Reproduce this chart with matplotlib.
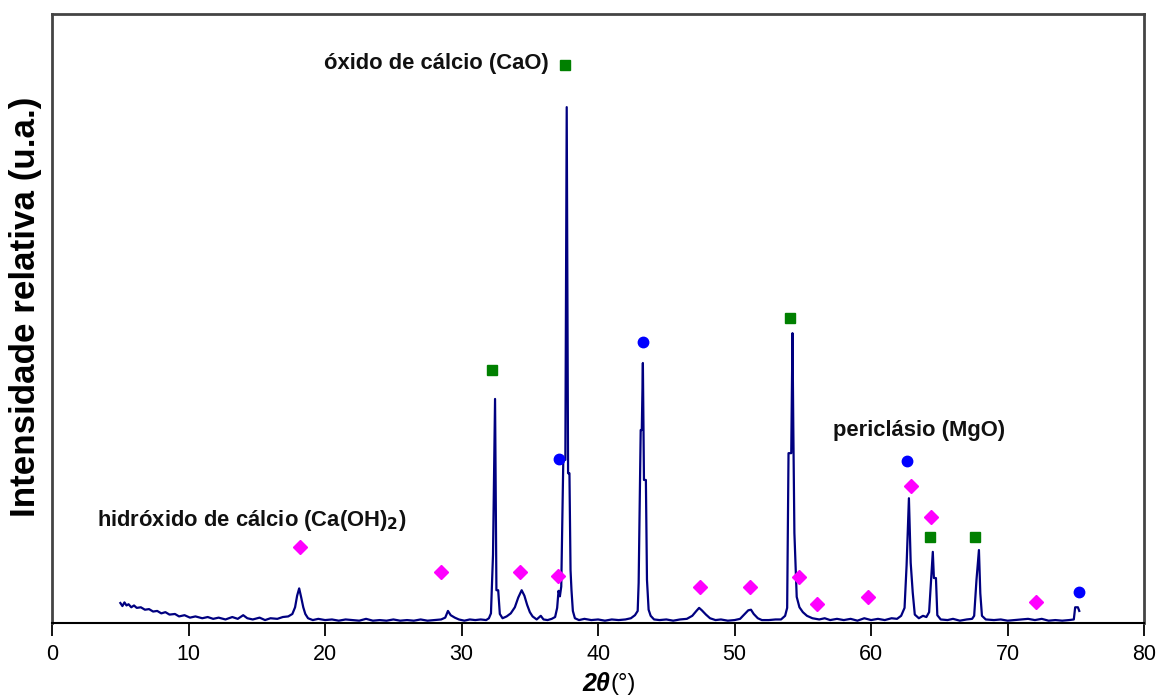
import matplotlib
matplotlib.use("Agg")
import matplotlib.pyplot as plt

plt.rcParams["font.family"] = ["Liberation Sans", "DejaVu Sans"]

# difratograma (2theta, intensidade relativa)
two_theta = [
    5.0, 5.15, 5.3, 5.45, 5.6, 5.8, 6.0, 6.2, 6.5, 6.8, 7.1, 7.4, 7.7, 8.0, 8.3, 8.6, 9.0, 9.3, 9.7, 10.1,
    10.5, 11.0, 11.4, 11.8, 12.2, 12.7, 13.2, 13.6, 14.0, 14.3, 14.7, 15.2, 15.6, 16.0, 16.5, 16.9, 17.3, 17.6,
    17.8, 17.95, 18.1, 18.25, 18.4, 18.55, 18.75, 19.1, 19.5, 20.0, 20.5, 21.0, 21.5, 22.0, 22.5, 23.0, 23.5,
    24.0, 24.5, 25.0, 25.5, 26.0, 26.5, 27.0, 27.5, 28.0, 28.5, 28.8, 29.0, 29.2, 29.5, 29.8, 30.2, 30.6, 31.0,
    31.4, 31.8, 32.0, 32.15, 32.3, 32.45, 32.55, 32.68, 32.8, 33.0, 33.3, 33.6, 33.9, 34.15, 34.4, 34.6, 34.8,
    35.0, 35.2, 35.5, 35.8, 36.0, 36.3, 36.6, 36.85, 37.0, 37.1, 37.2, 37.3, 37.45, 37.6, 37.7, 37.8, 37.9,
    37.98, 38.05, 38.15, 38.3, 38.6, 39.0, 39.5, 40.0, 40.5, 41.0, 41.5, 42.0, 42.4, 42.7, 42.9, 42.97, 43.12,
    43.2, 43.28, 43.36, 43.5, 43.58, 43.7, 43.85, 44.1, 44.5, 45.0, 45.5, 46.0, 46.5, 46.9, 47.2, 47.4, 47.6,
    47.9, 48.2, 48.6, 49.0, 49.5, 50.0, 50.4, 50.7, 51.0, 51.2, 51.4, 51.7, 52.0, 52.5, 53.0, 53.4, 53.7,
    53.85, 53.95, 54.15, 54.24, 54.3, 54.38, 54.55, 54.75, 55.0, 55.3, 55.7, 56.2, 56.6, 57.0, 57.5, 58.0,
    58.5, 59.0, 59.5, 60.0, 60.5, 61.0, 61.5, 61.9, 62.2, 62.45, 62.6, 62.77, 62.9, 63.05, 63.2, 63.5, 63.8,
    64.05, 64.25, 64.42, 64.52, 64.6, 64.75, 64.85, 65.1, 65.6, 66.0, 66.5, 67.0, 67.4, 67.55, 67.72, 67.9,
    68.0, 68.12, 68.4, 69.0, 69.5, 70.0, 70.5, 71.0, 71.5, 72.0, 72.5, 73.0, 73.5, 74.0, 74.5, 74.85, 74.95,
    75.15, 75.25,
]
intensity = [
    3.3, 2.8, 3.4, 2.9, 3.1, 2.6, 2.9, 2.5, 2.6, 2.2, 2.3, 1.9, 2.0, 1.6, 1.8, 1.4, 1.5, 1.1, 1.3, 0.9,
    1.1, 0.8, 1.0, 0.7, 0.9, 0.6, 1.0, 0.7, 1.3, 0.8, 0.6, 0.9, 0.5, 0.8, 0.7, 1.0, 1.1, 1.5,
    2.6, 4.5, 5.7, 4.2, 2.6, 1.5, 0.8, 0.5, 0.7, 0.5, 0.6, 0.4, 0.6, 0.5, 0.4, 0.7, 0.4,
    0.5, 0.4, 0.6, 0.4, 0.5, 0.4, 0.6, 0.4, 0.5, 0.6, 0.9, 2.0, 1.3, 0.9, 0.6, 0.4, 0.6, 0.5,
    0.6, 0.5, 0.8, 1.6, 11.2, 36.8, 5.4, 5.4, 1.5, 0.8, 1.1, 1.6, 2.6, 4.2, 5.4, 4.5, 3.0,
    1.8, 1.1, 0.6, 1.2, 0.6, 0.5, 0.7, 1.0, 2.5, 5.3, 4.4, 6.0, 26.8, 26.8, 84.7, 24.6, 24.6,
    8.7, 5.4, 2.0, 0.8, 0.5, 0.7, 0.5, 0.6, 0.4, 0.6, 0.5, 0.6, 0.8, 1.3, 2.0, 6.6, 31.7,
    31.7, 42.7, 23.5, 23.5, 7.1, 2.2, 1.2, 0.6, 0.5, 0.6, 0.4, 0.6, 0.7, 1.2, 2.0, 2.5, 2.1,
    1.4, 0.8, 0.5, 0.6, 0.4, 0.5, 0.7, 1.4, 2.1, 2.2, 1.5, 0.8, 0.5, 0.5, 0.6, 0.6, 1.2,
    2.5, 27.9, 27.9, 47.6, 32.2, 14.8, 4.3, 2.6, 1.8, 1.2, 0.8, 0.6, 0.8, 0.5, 0.7, 0.5,
    0.7, 0.4, 0.8, 0.5, 0.7, 0.5, 0.8, 0.7, 1.2, 2.5, 9.5, 20.5, 9.9, 5.0, 1.4, 0.8, 1.2,
    1.0, 1.8, 8.0, 11.7, 7.4, 7.4, 1.3, 0.6, 0.5, 0.7, 0.4, 0.6, 0.7, 1.2, 7.1, 12.0,
    4.9, 1.2, 0.6, 0.5, 0.6, 0.4, 0.5, 0.6, 0.7, 0.5, 0.7, 0.4, 0.5, 0.4, 0.5, 0.6, 2.6,
    2.6, 2.0,
]

# identificacao das fases
caoh2_x = [18.15, 28.5, 34.3, 37.05, 47.5, 51.1, 54.7, 56.0, 59.8, 62.9, 64.4, 72.1]
caoh2_y = [12.5, 8.4, 8.4, 7.7, 5.9, 5.9, 7.6, 3.1, 4.3, 22.5, 17.4, 3.4]
cao_x = [32.2, 37.55, 54.05, 64.3, 67.6]
cao_y = [41.5, 91.6, 50.1, 14.1, 14.1]
mgo_x = [37.1, 43.3, 62.6, 75.2]
mgo_y = [26.9, 46.1, 26.6, 5.1]

fig = plt.figure(figsize=(11.58, 6.97), dpi=100)
ax = fig.add_axes([0.045, 0.106, 0.943, 0.874])

ax.plot(two_theta, intensity, color="#000080", lw=1.6)
ax.plot(caoh2_x, caoh2_y, "D", color="#ff00ff", ms=7, ls="none")
ax.plot(cao_x, cao_y, "s", color="#008000", ms=7.5, ls="none")
ax.plot(mgo_x, mgo_y, "o", color="#0000ff", ms=7.5, ls="none")

ax.text(36.4, 91.8, "óxido de cálcio (CaO)", fontsize=15.8, fontweight="bold",
        ha="right", va="center", color="#111111")
ax.text(57.2, 31.6, "periclásio (MgO)", fontsize=15.8, fontweight="bold",
        ha="left", va="center", color="#111111")
ax.text(3.3, 16.9, "hidróxido de cálcio (Ca(OH)$_\\mathbf{2}$)", fontsize=15.8,
        fontweight="bold", ha="left", va="center", color="#111111")

ax.set_xlim(0, 80)
ax.set_ylim(0, 100)
ax.set_xticks(range(0, 81, 10))
ax.set_yticks([])
ax.tick_params(axis="x", direction="out", length=9, width=1.3, labelsize=15.5, pad=6)

for s in ["left", "top", "right"]:
    ax.spines[s].set_color("#444444")
    ax.spines[s].set_linewidth(2)
ax.spines["bottom"].set_color("black")
ax.spines["bottom"].set_linewidth(1.5)

ax.set_ylabel("Intensidade relativa (u.a.)", fontsize=25.2, fontweight="bold")
ax.yaxis.set_label_coords(-0.0095, 0.52)

ax.annotate("2θ", xy=(40.9, 0), xycoords=("data", "axes fraction"), xytext=(0, -44),
            textcoords="offset points", ha="right", va="center", fontsize=18,
            fontweight="bold", fontstyle="italic")
ax.annotate("(°)", xy=(40.9, 0), xycoords=("data", "axes fraction"), xytext=(0, -44),
            textcoords="offset points", ha="left", va="center", fontsize=17)

fig.savefig("out.png", dpi=100)
